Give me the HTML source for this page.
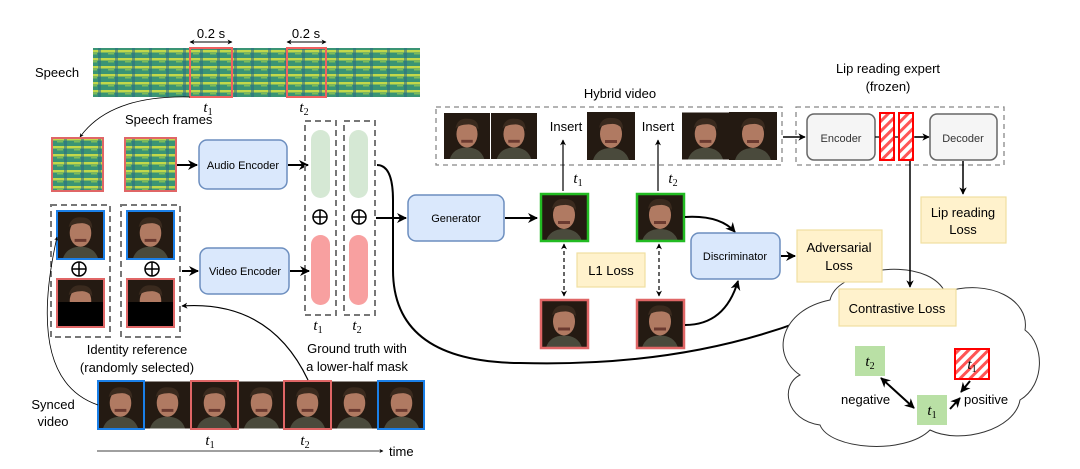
<!DOCTYPE html>
<html><head><meta charset="utf-8"><style>
body{margin:0;background:#fff;}
svg{display:block;font-family:"Liberation Sans",sans-serif;}
.it{font-family:"Liberation Serif",serif;font-style:italic;}
</style></head><body>
<svg width="1080" height="469" viewBox="0 0 1080 469" xmlns="http://www.w3.org/2000/svg">
<defs>
<marker id="a" viewBox="0 0 10 10" refX="9" refY="5" markerWidth="5" markerHeight="5" orient="auto-start-reverse"><path d="M0,0 L10,5 L0,10 L3,5 z" fill="#000"/></marker>
<pattern id="spec" width="17" height="8" patternUnits="userSpaceOnUse"><rect width="17" height="8" fill="#3a9474"/><rect y="2" width="17" height="2.5" fill="#c2d84a"/><rect x="6" y="5" width="6" height="1.5" fill="#7cbc58"/><rect x="13" y="0" width="3" height="8" fill="#2a6a86" opacity=".55"/></pattern>
<pattern id="hatch" width="7" height="7" patternUnits="userSpaceOnUse" patternTransform="rotate(45)"><rect width="7" height="7" fill="#fff"/><rect width="3" height="7" fill="#f55"/></pattern>
<symbol id="face" viewBox="0 0 48 48">
<rect width="48" height="48" fill="#241a12"/>
<path d="M6,48 Q10,36 24,36 Q38,36 42,48z" fill="#4a4a3c"/>
<ellipse cx="24" cy="22" rx="11" ry="14" fill="#b07a62"/>
<path d="M12,16 Q14,5 25,6 Q36,6 36,17 Q30,11 24,12 Q17,12 12,16z" fill="#3a2a1e"/>
<rect x="18" y="28" width="12" height="3" fill="#6b3a30"/>
</symbol>
</defs>

<text x="35" y="77" font-size="13">Speech</text>
<rect x="93" y="48" width="327" height="49" fill="url(#spec)"/>
<rect x="190" y="48" width="42" height="49" fill="none" stroke="#f06060" stroke-width="2"/>
<rect x="287" y="48" width="39" height="49" fill="none" stroke="#f06060" stroke-width="2"/>
<line x1="190" y1="42" x2="232" y2="42" stroke="#000" marker-start="url(#a)" marker-end="url(#a)"/>
<line x1="287" y1="42" x2="326" y2="42" stroke="#000" marker-start="url(#a)" marker-end="url(#a)"/>
<text x="211" y="38" font-size="13" text-anchor="middle">0.2 s</text>
<text x="306" y="38" font-size="13" text-anchor="middle">0.2 s</text>
<text x="208" y="112" font-size="15" class="it" text-anchor="middle">t<tspan font-size="10" dy="3" font-style="normal">1</tspan></text>
<text x="304" y="112" font-size="15" class="it" text-anchor="middle">t<tspan font-size="10" dy="3" font-style="normal">2</tspan></text>
<text x="125" y="124" font-size="13">Speech frames</text>
<path d="M190,97 Q110,95 80,137" fill="none" stroke="#000" stroke-width="0.8" marker-end="url(#a)"/>
<rect x="52" y="138" width="51" height="53" fill="url(#spec)" stroke="#e06666" stroke-width="2"/>
<rect x="125" y="138" width="51" height="53" fill="url(#spec)" stroke="#e06666" stroke-width="2"/>
<line x1="177" y1="165" x2="197" y2="165" stroke="#000" stroke-width="2" marker-end="url(#a)"/>
<rect x="199" y="140" width="88" height="49" rx="8" fill="#dae8fc" stroke="#6c8ebf" stroke-width="1.5"/>
<text x="243" y="169" font-size="11" text-anchor="middle">Audio Encoder</text>
<line x1="288" y1="165" x2="308" y2="165" stroke="#000" stroke-width="2" marker-end="url(#a)"/>

<rect x="305" y="121" width="31" height="194" fill="none" stroke="#777" stroke-width="2" stroke-dasharray="6,4"/>
<rect x="344" y="121" width="31" height="194" fill="none" stroke="#777" stroke-width="2" stroke-dasharray="6,4"/>
<rect x="311" y="130" width="19" height="68" rx="9.5" fill="#d5e8d4"/>
<rect x="349" y="130" width="19" height="68" rx="9.5" fill="#d5e8d4"/>
<rect x="311" y="235" width="19" height="70" rx="9.5" fill="#f8a0a0"/>
<rect x="349" y="235" width="19" height="70" rx="9.5" fill="#f8a0a0"/>
<g fill="none" stroke="#000" stroke-width="1.5">
<circle cx="320" cy="217" r="7"/><line x1="313" y1="217" x2="327" y2="217"/><line x1="320" y1="210" x2="320" y2="224"/>
<circle cx="359" cy="217" r="7"/><line x1="352" y1="217" x2="366" y2="217"/><line x1="359" y1="210" x2="359" y2="224"/>
<circle cx="79" cy="269" r="7"/><line x1="72" y1="269" x2="86" y2="269"/><line x1="79" y1="262" x2="79" y2="276"/>
<circle cx="152" cy="269" r="7"/><line x1="145" y1="269" x2="159" y2="269"/><line x1="152" y1="262" x2="152" y2="276"/>
</g>
<text x="318" y="330" font-size="15" class="it" text-anchor="middle">t<tspan font-size="10" dy="3" font-style="normal">1</tspan></text>
<text x="357" y="330" font-size="15" class="it" text-anchor="middle">t<tspan font-size="10" dy="3" font-style="normal">2</tspan></text>

<rect x="51" y="205" width="59" height="132" fill="none" stroke="#777" stroke-width="2" stroke-dasharray="6,4"/>
<rect x="121" y="205" width="59" height="132" fill="none" stroke="#777" stroke-width="2" stroke-dasharray="6,4"/>
<use href="#face" x="57" y="211" width="47" height="48"/><rect x="57" y="211" width="47" height="48" fill="none" stroke="#1a7fe8" stroke-width="2"/>
<use href="#face" x="127" y="211" width="47" height="48"/><rect x="127" y="211" width="47" height="48" fill="none" stroke="#1a7fe8" stroke-width="2"/>
<use href="#face" x="57" y="279" width="47" height="48"/><rect x="57" y="302" width="47" height="25" fill="#000"/><rect x="57" y="279" width="47" height="48" fill="none" stroke="#e06666" stroke-width="2"/>
<use href="#face" x="127" y="279" width="47" height="48"/><rect x="127" y="302" width="47" height="25" fill="#000"/><rect x="127" y="279" width="47" height="48" fill="none" stroke="#e06666" stroke-width="2"/>
<line x1="182" y1="271" x2="198" y2="271" stroke="#000" stroke-width="2" marker-end="url(#a)"/>
<rect x="200" y="248" width="89" height="46" rx="8" fill="#dae8fc" stroke="#6c8ebf" stroke-width="1.5"/>
<text x="245" y="275" font-size="11" text-anchor="middle">Video Encoder</text>
<line x1="290" y1="271" x2="309" y2="271" stroke="#000" stroke-width="2" marker-end="url(#a)"/>
<text x="137" y="354" font-size="13" text-anchor="middle">Identity reference</text>
<text x="137" y="372" font-size="13" text-anchor="middle">(randomly selected)</text>
<text x="357" y="353" font-size="13" text-anchor="middle">Ground truth with</text>
<text x="357" y="371" font-size="13" text-anchor="middle">a lower-half mask</text>

<text x="53" y="409" font-size="13" text-anchor="middle">Synced</text>
<text x="53" y="426" font-size="13" text-anchor="middle">video</text>
<use href="#face" x="97" y="380" width="47" height="50"/>
<use href="#face" x="144" y="380" width="47" height="50"/>
<use href="#face" x="191" y="380" width="47" height="50"/>
<use href="#face" x="238" y="380" width="47" height="50"/>
<use href="#face" x="284" y="380" width="47" height="50"/>
<use href="#face" x="331" y="380" width="47" height="50"/>
<use href="#face" x="378" y="380" width="47" height="50"/>
<rect x="98" y="381" width="46" height="48" fill="none" stroke="#1a7fe8" stroke-width="2"/>
<rect x="191" y="381" width="47" height="48" fill="none" stroke="#e06666" stroke-width="2"/>
<rect x="284" y="381" width="47" height="48" fill="none" stroke="#e06666" stroke-width="2"/>
<rect x="378" y="381" width="46" height="48" fill="none" stroke="#1a7fe8" stroke-width="2"/>
<path d="M98,405 Q25,380 57,237" fill="none" stroke="#000" stroke-width="0.8" marker-end="url(#a)"/>
<path d="M308,380 Q270,300 182,306" fill="none" stroke="#000" stroke-width="1.2" marker-end="url(#a)"/>
<text x="210" y="445" font-size="15" class="it" text-anchor="middle">t<tspan font-size="10" dy="3" font-style="normal">1</tspan></text>
<text x="305" y="445" font-size="15" class="it" text-anchor="middle">t<tspan font-size="10" dy="3" font-style="normal">2</tspan></text>
<line x1="97" y1="451" x2="383" y2="451" stroke="#000" stroke-width="0.8" marker-end="url(#a)"/>
<text x="389" y="456" font-size="13">time</text>

<line x1="376" y1="218" x2="406" y2="218" stroke="#000" stroke-width="2" marker-end="url(#a)"/>
<rect x="408" y="195" width="96" height="46" rx="8" fill="#dae8fc" stroke="#6c8ebf" stroke-width="1.5"/>
<text x="456" y="222" font-size="11" text-anchor="middle">Generator</text>
<line x1="505" y1="218" x2="537" y2="218" stroke="#000" stroke-width="2" marker-end="url(#a)"/>
<path d="M377,165 Q393,165 393,200 L393,270 Q393,362 520,363 Q700,368 836,307" fill="none" stroke="#000" stroke-width="2" marker-end="url(#a)"/>

<text x="620" y="98" font-size="13" text-anchor="middle">Hybrid video</text>
<rect x="436" y="107" width="346" height="58" fill="none" stroke="#888" stroke-width="1.3" stroke-dasharray="5,4"/>
<use href="#face" x="444" y="112" width="46" height="48"/>
<use href="#face" x="491" y="112" width="46" height="48"/>
<use href="#face" x="587" y="112" width="48" height="48"/>
<use href="#face" x="682" y="112" width="47" height="48"/>
<use href="#face" x="729" y="112" width="48" height="48"/>
<text x="566" y="131" font-size="13" text-anchor="middle">Insert</text>
<text x="658" y="131" font-size="13" text-anchor="middle">Insert</text>
<line x1="563" y1="191" x2="563" y2="140" stroke="#000" stroke-width="1.2" marker-end="url(#a)"/>
<line x1="658" y1="191" x2="658" y2="140" stroke="#000" stroke-width="1.2" marker-end="url(#a)"/>
<text x="578" y="183" font-size="15" class="it" text-anchor="middle">t<tspan font-size="10" dy="3" font-style="normal">1</tspan></text>
<text x="673" y="183" font-size="15" class="it" text-anchor="middle">t<tspan font-size="10" dy="3" font-style="normal">2</tspan></text>
<use href="#face" x="540" y="193" width="48" height="48"/><rect x="541" y="194" width="47" height="47" fill="none" stroke="#22bb22" stroke-width="2.5"/>
<use href="#face" x="636" y="193" width="48" height="48"/><rect x="637" y="194" width="47" height="47" fill="none" stroke="#22bb22" stroke-width="2.5"/>
<use href="#face" x="540" y="299" width="48" height="49"/><rect x="541" y="300" width="47" height="48" fill="none" stroke="#e06666" stroke-width="2.5"/>
<use href="#face" x="636" y="299" width="48" height="49"/><rect x="637" y="300" width="47" height="48" fill="none" stroke="#e06666" stroke-width="2.5"/>
<line x1="564" y1="244" x2="564" y2="296" stroke="#000" stroke-width="1.2" stroke-dasharray="4,3" marker-start="url(#a)" marker-end="url(#a)"/>
<line x1="659" y1="244" x2="659" y2="296" stroke="#000" stroke-width="1.2" stroke-dasharray="4,3" marker-start="url(#a)" marker-end="url(#a)"/>
<rect x="577" y="253" width="68" height="34" fill="#fff2cc" stroke="#f0dfa0" stroke-width="1.2"/>
<text x="611" y="275" font-size="13" text-anchor="middle">L1 Loss</text>
<path d="M685,217 Q720,215 735,232" fill="none" stroke="#000" stroke-width="2" marker-end="url(#a)"/>
<path d="M685,325 Q725,325 738,281" fill="none" stroke="#000" stroke-width="2" marker-end="url(#a)"/>
<rect x="691" y="233" width="89" height="46" rx="8" fill="#dae8fc" stroke="#6c8ebf" stroke-width="1.5"/>
<text x="735" y="260" font-size="11" text-anchor="middle">Discriminator</text>
<line x1="781" y1="256" x2="795" y2="256" stroke="#000" stroke-width="2" marker-end="url(#a)"/>

<path d="M845,282 C870,265 930,262 945,292 C990,278 1030,300 1025,330 C1045,345 1045,385 1020,400 C1015,430 960,445 930,430 C905,455 830,450 820,425 C785,420 780,385 800,375 C770,355 780,310 830,300 C832,292 838,286 845,282z" fill="#fff" stroke="#333" stroke-width="1"/>

<rect x="797" y="230" width="85" height="52" fill="#fff2cc" stroke="#f0dfa0" stroke-width="1.2"/>
<text x="839" y="252" font-size="13" text-anchor="middle">Adversarial</text>
<text x="839" y="270" font-size="13" text-anchor="middle">Loss</text>

<text x="888" y="73" font-size="13" text-anchor="middle">Lip reading expert</text>
<text x="888" y="91" font-size="13" text-anchor="middle">(frozen)</text>
<rect x="796" y="107" width="208" height="58" fill="none" stroke="#888" stroke-width="1.3" stroke-dasharray="5,4"/>
<line x1="783" y1="137" x2="805" y2="137" stroke="#000" stroke-width="1.5" marker-end="url(#a)"/>
<rect x="807" y="114" width="68" height="46" rx="7" fill="#f5f5f5" stroke="#666" stroke-width="1.5"/>
<text x="841" y="142" font-size="11" text-anchor="middle" fill="#333">Encoder</text>
<line x1="875" y1="137" x2="928" y2="137" stroke="#000" stroke-width="1.2"/>
<rect x="880" y="113" width="14" height="47" fill="url(#hatch)" stroke="#f00" stroke-width="2"/>
<rect x="899" y="113" width="14" height="47" fill="url(#hatch)" stroke="#f00" stroke-width="2"/>
<line x1="915" y1="137" x2="929" y2="137" stroke="#000" stroke-width="1.5" marker-end="url(#a)"/>
<rect x="930" y="114" width="67" height="46" rx="7" fill="#f5f5f5" stroke="#666" stroke-width="1.5"/>
<text x="963" y="142" font-size="11" text-anchor="middle" fill="#333">Decoder</text>
<line x1="963" y1="161" x2="963" y2="194" stroke="#000" stroke-width="1.5" marker-end="url(#a)"/>
<rect x="921" y="197" width="85" height="46" fill="#fff2cc" stroke="#f0dfa0" stroke-width="1.2"/>
<text x="963" y="217" font-size="13" text-anchor="middle">Lip reading</text>
<text x="963" y="234" font-size="13" text-anchor="middle">Loss</text>
<line x1="910" y1="161" x2="910" y2="287" stroke="#000" stroke-width="1.5" marker-end="url(#a)"/>

<rect x="839" y="289" width="117" height="37" fill="#fff2cc" stroke="#f0dfa0" stroke-width="1.2"/>
<text x="897" y="313" font-size="13" text-anchor="middle">Contrastive Loss</text>

<rect x="855" y="346" width="30" height="30" fill="#b9e0a5"/>
<text x="870" y="366" font-size="15" class="it" text-anchor="middle">t<tspan font-size="10" dy="3" font-style="normal">2</tspan></text>
<rect x="917" y="395" width="30" height="30" fill="#b9e0a5"/>
<text x="932" y="415" font-size="15" class="it" text-anchor="middle">t<tspan font-size="10" dy="3" font-style="normal">1</tspan></text>
<rect x="955" y="349" width="34" height="30" fill="url(#hatch)" stroke="#f00" stroke-width="2"/>
<text x="972" y="369" font-size="15" class="it" text-anchor="middle">t<tspan font-size="10" dy="3" font-style="normal">1</tspan></text>
<line x1="881" y1="378" x2="914" y2="408" stroke="#000" stroke-width="2" marker-start="url(#a)" marker-end="url(#a)"/>
<line x1="950" y1="409" x2="960" y2="398" stroke="#000" stroke-width="2" marker-end="url(#a)"/>
<line x1="970" y1="381" x2="961" y2="392" stroke="#000" stroke-width="2" marker-end="url(#a)"/>
<text x="841" y="404" font-size="13">negative</text>
<text x="964" y="404" font-size="13">positive</text>
</svg>
</body></html>
